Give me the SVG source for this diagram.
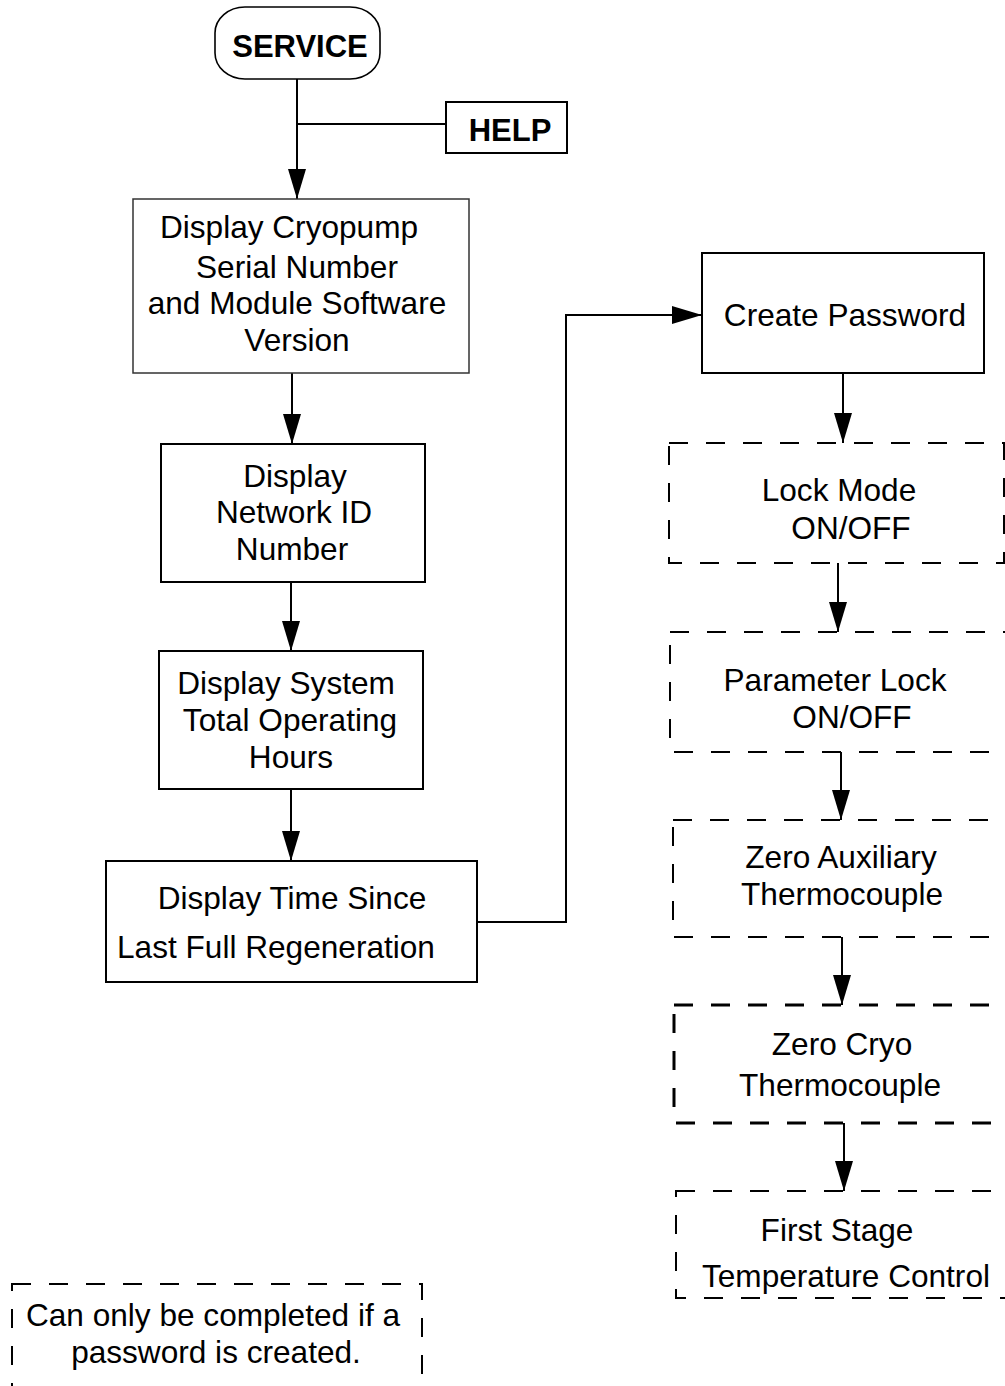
<svg xmlns="http://www.w3.org/2000/svg" width="1005" height="1386" viewBox="0 0 1005 1386">
<defs>
<marker id="ah" markerWidth="30" markerHeight="20" refX="30" refY="10" orient="auto" markerUnits="userSpaceOnUse">
<path d="M0,1 L30,10 L0,19 Z" fill="#000"/>
</marker>
</defs>
<style>
text{font-family:"Liberation Sans",Arial,sans-serif;font-size:31.6px;fill:#000;text-anchor:middle}
.b{font-weight:bold;font-size:31px}
.box{fill:#fff;stroke:#000;stroke-width:2}
.thin{stroke:#333;stroke-width:1.5}
.dash{fill:none;stroke:#000;stroke-width:2;stroke-dasharray:19 18}
.dash3{stroke-width:3}
.ln{fill:none;stroke:#000;stroke-width:2}
</style>
<rect width="1005" height="1386" fill="#fff"/>
<g id="connectors">
<line class="ln" x1="297" y1="79" x2="297" y2="199" marker-end="url(#ah)"/>
<line class="ln" x1="297" y1="124" x2="446" y2="124"/>
<line class="ln" x1="292" y1="373" x2="292" y2="444" marker-end="url(#ah)"/>
<line class="ln" x1="291" y1="582" x2="291" y2="651" marker-end="url(#ah)"/>
<line class="ln" x1="291" y1="789" x2="291" y2="861" marker-end="url(#ah)"/>
<polyline class="ln" points="477,922 566,922 566,315 702,315" marker-end="url(#ah)"/>
<line class="ln" x1="843" y1="373" x2="843" y2="443" marker-end="url(#ah)"/>
<line class="ln" x1="838" y1="563" x2="838" y2="632" marker-end="url(#ah)"/>
<line class="ln" x1="841" y1="752" x2="841" y2="820" marker-end="url(#ah)"/>
<line class="ln" x1="842" y1="937" x2="842" y2="1005" marker-end="url(#ah)"/>
<line class="ln" x1="844" y1="1123" x2="844" y2="1191" marker-end="url(#ah)"/>
</g>
<g id="service">
<rect class="box" x="215" y="7" width="165" height="72" rx="30" ry="26" style="stroke-width:1.6"/>
<text class="b" x="300" y="57">SERVICE</text>
</g>
<g id="help">
<rect class="box" x="446" y="102" width="121" height="51"/>
<text class="b" x="510" y="141">HELP</text>
</g>
<g id="serial">
<rect class="box thin" x="133" y="199" width="336" height="174"/>
<text x="289" y="238">Display Cryopump</text>
<text x="297" y="278">Serial Number</text>
<text x="297" y="314">and Module Software</text>
<text x="297" y="351">Version</text>
</g>
<g id="network">
<rect class="box" x="161" y="444" width="264" height="138"/>
<text x="295" y="487">Display</text>
<text x="294" y="523">Network ID</text>
<text x="292" y="560">Number</text>
</g>
<g id="hours">
<rect class="box" x="159" y="651" width="264" height="138"/>
<text x="286" y="694">Display System</text>
<text x="290" y="731">Total Operating</text>
<text x="291" y="768">Hours</text>
</g>
<g id="regen">
<rect class="box" x="106" y="861" width="371" height="121"/>
<text x="292" y="909">Display Time Since</text>
<text x="276" y="958">Last Full Regeneration</text>
</g>
<g id="password">
<rect class="box" x="702" y="253" width="282" height="120"/>
<text x="845" y="326">Create Password</text>
</g>
<g id="lockmode">
<rect class="dash" x="669" y="443" width="335" height="120"/>
<text x="839" y="501">Lock Mode</text>
<text x="851" y="539">ON/OFF</text>
</g>
<g id="paramlock">
<rect class="dash" x="670" y="632" width="340" height="120"/>
<text x="835" y="691">Parameter Lock</text>
<text x="852" y="728">ON/OFF</text>
</g>
<g id="zeroaux">
<rect class="dash" x="673" y="820" width="340" height="117"/>
<text x="841" y="868">Zero Auxiliary</text>
<text x="842" y="905">Thermocouple</text>
</g>
<g id="zerocryo">
<rect class="dash dash3" x="674" y="1005" width="340" height="118"/>
<text x="842" y="1055">Zero Cryo</text>
<text x="840" y="1096">Thermocouple</text>
</g>
<g id="firststage">
<rect class="dash" x="676" y="1191" width="340" height="107"/>
<text x="837" y="1241">First Stage</text>
<text x="846" y="1287">Temperature Control</text>
</g>
<g id="legend">
<rect class="dash" x="12" y="1284" width="410" height="130"/>
<text x="213" y="1326">Can only be completed if a</text>
<text x="216" y="1363">password is created.</text>
</g>
</svg>
